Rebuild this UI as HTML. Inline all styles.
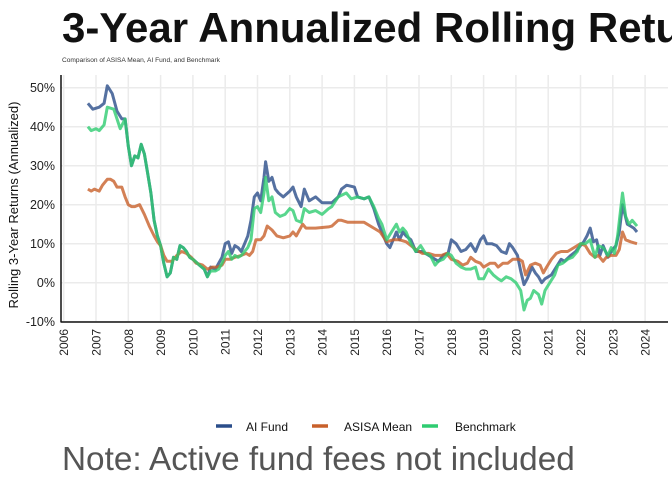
<!DOCTYPE html>
<html><head><meta charset="utf-8"><style>
body{margin:0;background:#fff;font-family:"Liberation Sans",sans-serif}
svg text{font-family:"Liberation Sans",sans-serif}
</style></head><body>
<svg id="chart" width="672" height="480" viewBox="0 0 672 480">
<text x="62" y="42" font-size="42" font-weight="bold" fill="#111">3-Year Annualized Rolling Returns</text>
<text x="62" y="62" font-size="6.6" fill="#333">Comparison of ASISA Mean, AI Fund, and Benchmark</text>
<g id="grid"></g>
<g id="series"></g>
<g id="axes"></g>
<text transform="translate(18,205) rotate(-90)" text-anchor="middle" font-size="13" fill="#111">Rolling 3-Year Returns (Annualized)</text>
<g>
<g><line x1="216" y1="426" x2="232" y2="426" stroke="#2a4d8a" stroke-width="3.5"/><text x="246" y="431" font-size="12" fill="#111">AI Fund</text></g>
<g><line x1="312" y1="426" x2="328" y2="426" stroke="#c8602a" stroke-width="3.5"/><text x="344" y="431" font-size="12" fill="#111">ASISA Mean</text></g>
<g><line x1="422" y1="426" x2="438" y2="426" stroke="#2ecc71" stroke-width="3.5"/><text x="455" y="431" font-size="12" fill="#111">Benchmark</text></g>
</g>
<text x="62" y="470" font-size="33.3" fill="#555">Note: Active fund fees not included</text>
</svg>
<script>
const yTicks=[-10,0,10,20,30,40,50];
const xTicks=[2006,2007,2008,2009,2010,2011,2012,2013,2014,2015,2016,2017,2018,2019,2020,2021,2022,2023,2024];
const aiDates=[2006.75,2006.9,2007.1,2007.25,2007.35,2007.5,2007.65,2007.8,2007.9,2008.0,2008.1,2008.2,2008.3,2008.4,2008.5,2008.6,2008.7,2008.8,2008.9,2009.0,2009.1,2009.2,2009.3,2009.4,2009.5,2009.6,2009.7,2009.8,2009.9,2010.0,2010.2,2010.35,2010.45,2010.55,2010.7,2010.8,2010.9,2011.0,2011.1,2011.2,2011.3,2011.4,2011.5,2011.6,2011.7,2011.8,2011.9,2012.0,2012.1,2012.2,2012.25,2012.35,2012.45,2012.55,2012.65,2012.8,2013.0,2013.1,2013.2,2013.35,2013.45,2013.6,2013.8,2014.0,2014.3,2014.5,2014.6,2014.76,2015.0,2015.1,2015.3,2015.45,2015.6,2015.75,2015.85,2016.0,2016.1,2016.2,2016.3,2016.4,2016.5,2016.6,2016.75,2016.9,2017.1,2017.3,2017.5,2017.6,2017.75,2017.9,2018.0,2018.15,2018.3,2018.45,2018.6,2018.75,2018.9,2019.0,2019.1,2019.25,2019.4,2019.55,2019.7,2019.8,2019.9,2020.05,2020.15,2020.25,2020.35,2020.5,2020.6,2020.7,2020.8,2020.9,2021.1,2021.25,2021.4,2021.5,2021.7,2021.85,2022.0,2022.1,2022.2,2022.3,2022.4,2022.5,2022.6,2022.7,2022.85,2022.95,2023.1,2023.2,2023.3,2023.45,2023.55,2023.65,2023.75];
const aiValues=[46,44.5,45,46,50.5,48.5,44,42,42,35,30,32.5,32,35.5,33,28,23,16,12,9.5,5,1.5,2.5,6.5,6,9.5,9,8,6.5,6,4.5,3.5,1.5,4,3.5,5,6.5,10,10.5,7.5,9.5,9,8,10,12,16,22,23,21,27,31,26,27,24,23,22,23.5,24.5,22,19.5,24,21,22,20.5,20.5,22,24,25,24.5,22,21.5,22,19,15,13,10,9,11,13,11,13,12,11,8,8,7,6,5.5,7,7.5,11,10,8,8.5,10,8,11,12,10,10,9.5,8,7.5,10,9,7,3,-0.5,1,4,2.5,1.5,0,1,2,4,6,5.5,7,8,9.5,10.5,12,14,10.5,11,7,9.5,6.5,8,9.5,13,20,15,14.5,14,13];
const asisaDates=[2006.75,2006.85,2006.95,2007.1,2007.2,2007.35,2007.45,2007.55,2007.65,2007.8,2007.9,2008.0,2008.1,2008.2,2008.35,2008.5,2008.65,2008.8,2008.9,2009.0,2009.1,2009.2,2009.35,2009.5,2009.65,2009.8,2009.95,2010.1,2010.3,2010.45,2010.6,2010.75,2010.9,2011.0,2011.15,2011.3,2011.5,2011.65,2011.75,2011.85,2011.95,2012.1,2012.2,2012.3,2012.45,2012.6,2012.8,2013.0,2013.1,2013.2,2013.4,2013.5,2013.8,2014.2,2014.3,2014.5,2014.6,2014.8,2015.0,2015.3,2015.6,2015.8,2016.0,2016.2,2016.4,2016.6,2016.9,2017.1,2017.3,2017.5,2017.7,2017.85,2018.0,2018.2,2018.35,2018.5,2018.6,2018.75,2018.9,2019.0,2019.2,2019.35,2019.45,2019.6,2019.75,2019.9,2020.1,2020.2,2020.3,2020.45,2020.6,2020.75,2020.85,2020.95,2021.1,2021.25,2021.4,2021.6,2021.8,2022.0,2022.15,2022.3,2022.45,2022.55,2022.7,2022.8,2022.95,2023.1,2023.2,2023.3,2023.4,2023.55,2023.75];
const asisaValues=[24,23.5,24,23.5,25,26.5,26.5,26,24.5,24.5,22,20,19.5,19.5,20,17.5,14.5,12,10.5,9.5,7,5.5,5.5,7,8,7.5,6.5,5,4.5,3.5,4,4,4.5,6,6,6.5,7,7.5,7,8,11,11,12,14.5,13.5,12,11.5,12,13,12,15,14,14,14.3,14.5,16,16,15.5,15.5,15.5,14,13,10.5,11,11,10.5,8.5,7.5,7.5,7,7,7.5,6,5.5,4.5,5,6.5,5.5,5,4,5,5,4,5,5,6,6,5.5,2,4.5,5,4.5,2.5,4,6,7.5,8,8,9,10,9.5,7.5,6.5,7,5.5,6.5,7,7,8.5,13,11,10.5,10];
const benchDates=[2006.75,2006.85,2007.0,2007.1,2007.25,2007.35,2007.55,2007.65,2007.75,2007.9,2008.0,2008.1,2008.2,2008.3,2008.4,2008.5,2008.6,2008.7,2008.8,2008.9,2009.0,2009.1,2009.2,2009.3,2009.4,2009.5,2009.6,2009.7,2009.8,2009.9,2010.0,2010.2,2010.35,2010.45,2010.55,2010.7,2010.8,2010.9,2011.0,2011.1,2011.2,2011.3,2011.4,2011.5,2011.6,2011.7,2011.8,2011.9,2012.0,2012.1,2012.2,2012.25,2012.35,2012.45,2012.55,2012.7,2012.85,2013.0,2013.1,2013.2,2013.35,2013.45,2013.6,2013.8,2014.0,2014.2,2014.3,2014.5,2014.75,2014.9,2015.1,2015.3,2015.45,2015.6,2015.75,2015.85,2016.0,2016.15,2016.3,2016.4,2016.5,2016.6,2016.75,2016.9,2017.05,2017.2,2017.35,2017.5,2017.6,2017.75,2017.9,2018.0,2018.15,2018.3,2018.45,2018.6,2018.75,2018.85,2019.0,2019.15,2019.3,2019.45,2019.55,2019.7,2019.85,2020.0,2020.15,2020.25,2020.35,2020.45,2020.55,2020.7,2020.8,2020.9,2021.05,2021.2,2021.3,2021.45,2021.6,2021.75,2021.9,2022.0,2022.15,2022.3,2022.45,2022.55,2022.7,2022.85,2022.95,2023.05,2023.15,2023.3,2023.4,2023.5,2023.6,2023.75];
const benchValues=[40,39,39.5,39,40.5,45,44.5,42,39.5,42,35,30,32.5,32,35.5,33,28,23,16,12,9.5,5,1.5,2.5,6.5,6,9.5,9,8,6.5,6,4.5,3.5,1.5,3,3,3.5,5,7,8,6,7,6.5,7,8,9,11,19,19.5,18,23,27,21,22,18,17,17.5,19,18.5,16,15.5,19,18,18.5,17.5,19,19.5,22,23,21.5,22,21.5,22,19.5,16.5,15,11,13,15,13,14,13,10,8,9.5,7.5,7,4.5,5.5,6,7.5,7,5,4,3.5,3.5,4,1,1,3.5,2,1,0.5,1.5,1,0,-2,-7,-4.5,-4,-2,-3,-5.5,-2,0,2,4.5,5,6,6.5,8,10,10,11,6.5,9.5,9,7,9,7.5,12,23,17,15,16,14.5];

const NS="http://www.w3.org/2000/svg";
const L=61,R=668,T=75,B=322;
function xs(yr){return 63.7+(yr-2006)*32.3;}
function ys(v){return 282.7-v*3.9;}
const grid=document.getElementById('grid'),axes=document.getElementById('axes'),ser=document.getElementById('series');
function mk(tag,attrs,parent){const e=document.createElementNS(NS,tag);for(const k in attrs)e.setAttribute(k,attrs[k]);parent.appendChild(e);return e;}
yTicks.forEach(v=>{
  const g=mk('line',{x1:L,x2:R,y1:ys(v),y2:ys(v),stroke:'#ebebeb','stroke-width':1.5},grid);
  
  
  const t=mk('text',{x:55,y:ys(v)+4.5,'text-anchor':'end','font-size':12.5,fill:'#222'},axes);
  t.textContent=v+'%';
  
  
});
xTicks.forEach(yr=>{
  const g=mk('line',{x1:xs(yr),x2:xs(yr),y1:T,y2:B,stroke:'#ebebeb','stroke-width':1.5},grid);
  
  
  const t=mk('text',{transform:`translate(${xs(yr)+4.5},${B+7}) rotate(-90)`,'text-anchor':'end','font-size':12,fill:'#222'},axes);
  t.textContent=yr;
  
  
});
const ax1=mk('line',{x1:L,x2:L,y1:T,y2:B+0.5,stroke:'#111','stroke-width':1.5},axes);


const ax2=mk('line',{x1:L,x2:R,y1:B,y2:B,stroke:'#111','stroke-width':1.5},axes);


function draw(d,v,color,name){
  const pts=d.map((yr,i)=>xs(yr).toFixed(1)+','+ys(v[i]).toFixed(1)).join(' ');
  const p=mk('polyline',{points:pts,fill:'none',stroke:color,'stroke-width':3,'stroke-opacity':0.8,'stroke-linejoin':'round'},ser);
  
  
}
draw(aiDates,aiValues,'#2a4d8a','ai-fund-line');
draw(asisaDates,asisaValues,'#c8602a','asisa-mean-line');
draw(benchDates,benchValues,'#2ecc71','benchmark-line');
</script>
</body></html>
